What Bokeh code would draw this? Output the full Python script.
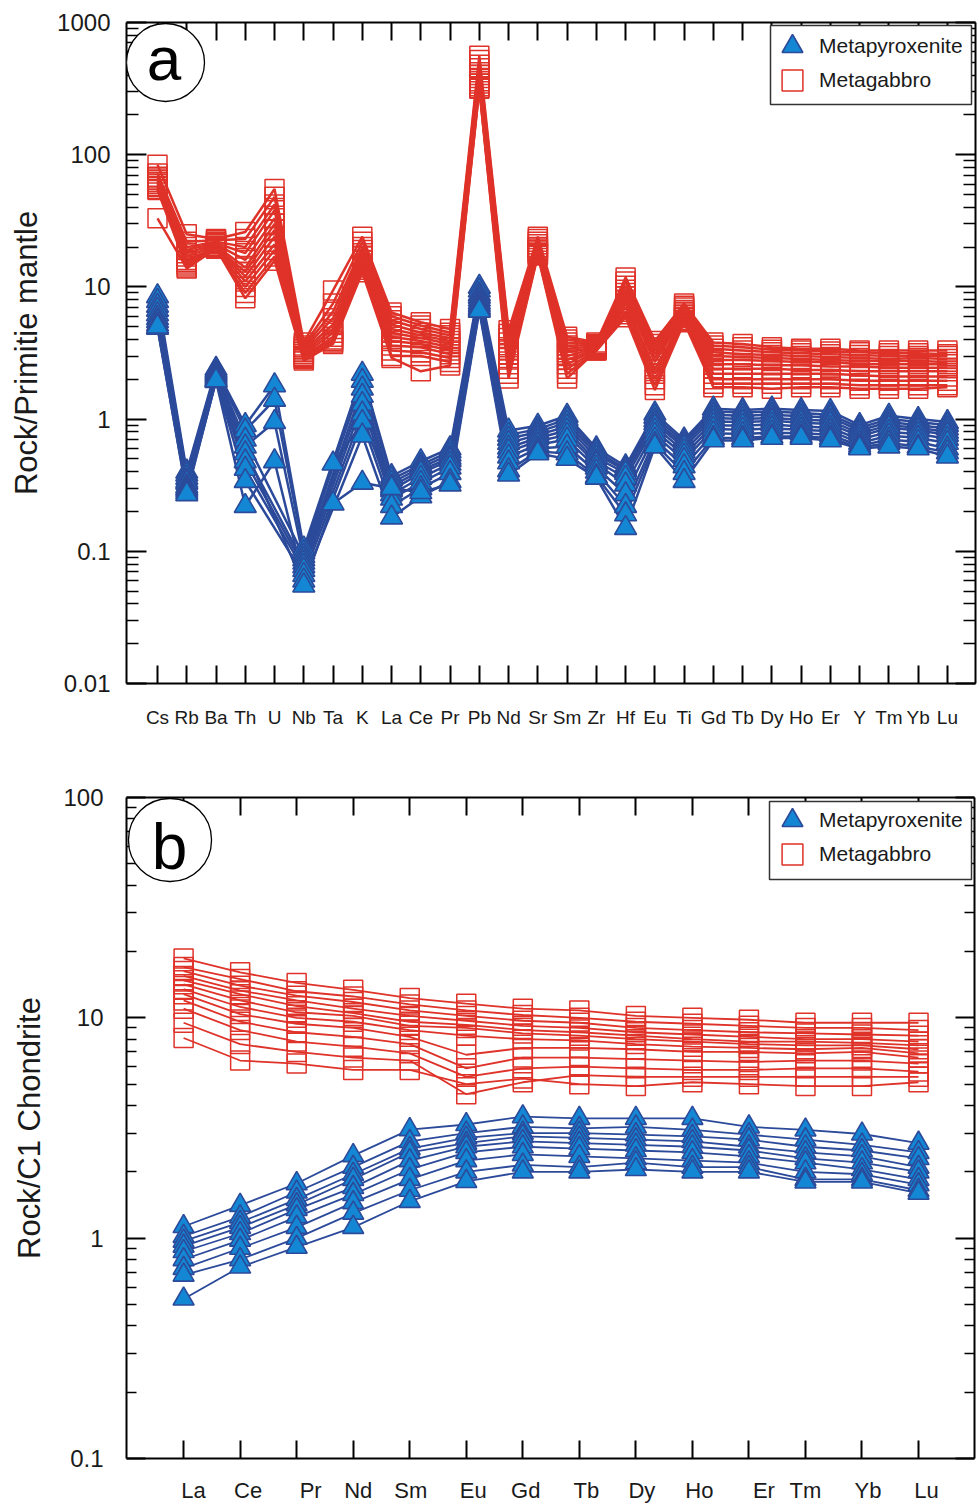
from bokeh.plotting import figure
from bokeh.models import (Range1d, FixedTicker, LinearAxis, LogAxis, CustomJSTickFormatter,
                          Legend, LegendItem, BoxAnnotation, Label)
from bokeh.layouts import column
from bokeh.embed import file_html
from bokeh.resources import INLINE

# ---------------- data ----------------
spider_elements = ["Cs", "Rb", "Ba", "Th", "U", "Nb", "Ta", "K", "La", "Ce", "Pr", "Pb", "Nd", "Sr",
                   "Sm", "Zr", "Hf", "Eu", "Ti", "Gd", "Tb", "Dy", "Ho", "Er", "Y", "Tm", "Yb", "Lu"]
ree_elements = ["La", "Ce", "Pr", "Nd", "Sm", "Eu", "Gd", "Tb", "Dy", "Ho", "Er", "Tm", "Yb", "Lu"]

pm_ticks = [0.01, 0.1, 1, 10, 100, 1000]
ch_ticks = [0.1, 1, 10, 100]

# Rock / primitive mantle (panel a)
metapyroxenite_pm = [
    [8.5, 0.40, 2.40, 0.90, 1.80, 0.105, None, 2.20, 0.37, 0.48, 0.60, 10.0, 0.82, 0.89, 1.06, 0.60, 0.44, 1.10, 0.70, 1.20, 1.17, 1.20, 1.17, 1.15, 0.90, 1.06, 1.00, 0.95],
    [7.8, 0.38, 2.32, 0.82, 1.40, 0.098, None, 1.95, 0.35, 0.45, 0.57, 9.4, 0.76, 0.84, 1.00, 0.57, 0.42, 1.04, 0.67, 1.14, 1.12, 1.14, 1.11, 1.08, 0.86, 1.00, 0.95, 0.90],
    [7.2, 0.36, 2.26, 0.70, None, 0.092, 0.46, 0.93, 0.33, 0.43, 0.54, 8.8, 0.71, 0.80, 0.94, 0.54, 0.41, 0.98, 0.64, 1.08, 1.06, 1.08, 1.05, 1.03, 0.82, 0.95, 0.90, 0.85],
    [6.7, 0.34, 2.20, 0.62, 0.95, 0.087, None, 1.70, 0.31, 0.41, 0.51, 8.4, 0.66, 0.76, 0.88, 0.51, 0.39, 0.93, 0.61, 1.02, 1.00, 1.02, 0.99, 0.97, 0.78, 0.90, 0.86, 0.80],
    [6.2, 0.33, 2.14, 0.55, None, 0.082, None, 1.50, 0.29, 0.39, 0.49, 8.0, 0.61, 0.72, 0.82, 0.48, 0.36, 0.88, 0.57, 0.96, 0.95, 0.97, 0.94, 0.92, 0.74, 0.86, 0.82, 0.76],
    [5.8, 0.31, 2.08, 0.48, None, 0.077, None, 1.30, 0.27, 0.36, 0.46, 7.6, 0.57, 0.68, 0.76, 0.46, 0.32, 0.82, 0.53, 0.90, 0.89, 0.91, 0.88, 0.86, 0.70, 0.80, 0.77, 0.71],
    [5.5, 0.30, 2.03, 0.42, None, 0.072, None, 1.10, 0.25, 0.33, 0.43, 7.3, 0.52, 0.64, 0.70, 0.43, 0.27, 0.76, 0.49, 0.84, 0.83, 0.85, 0.83, 0.81, 0.66, 0.75, 0.72, 0.66],
    [5.2, 0.29, 1.98, 0.34, None, 0.066, None, 0.95, 0.22, 0.30, 0.39, 7.0, 0.47, 0.60, 0.62, 0.40, 0.22, 0.70, 0.44, 0.78, 0.77, 0.79, 0.78, 0.76, 0.63, 0.70, 0.67, 0.60],
    [4.9, 0.28, 1.94, 0.22, 0.48, 0.060, None, 0.75, 0.18, 0.26, 0.34, 6.8, 0.41, 0.57, 0.55, 0.37, 0.19, 0.65, 0.39, 0.72, 0.72, 0.74, 0.74, 0.72, 0.61, 0.66, 0.62, 0.56],
    [5.0, 0.27, 1.96, None, None, 0.055, 0.23, 0.33, 0.30, 0.28, 0.32, 6.6, 0.38, 0.55, 0.50, 0.36, 0.15, 0.62, 0.34, 0.69, 0.69, 0.72, 0.72, 0.69, 0.60, 0.62, 0.60, 0.52],
]
metagabbro_pm = [
    [84, 25.0, 23.0, 26.0, 55, 3.80, 9.4, 24.0, 6.4, 5.4, 4.8, 560, 4.70, 24.0, 4.20, 3.80, 11.8, 3.90, 7.5, 3.80, 3.70, 3.50, 3.40, 3.40, 3.30, 3.30, 3.30, 3.30],
    [72, 22.0, 22.5, 23.0, 48, 3.60, 7.5, 22.0, 6.0, 5.1, 4.5, 520, 4.40, 23.0, 4.00, 3.70, 11.0, 3.70, 7.2, 3.60, 3.50, 3.35, 3.30, 3.25, 3.20, 3.15, 3.15, 3.10],
    [68, 20.0, 22.0, 20.0, 42, 3.50, 6.5, 20.0, 5.6, 4.8, 4.3, 480, 4.10, 22.0, 3.80, 3.65, 10.2, 3.50, 7.0, 3.40, 3.30, 3.20, 3.15, 3.10, 3.05, 3.00, 3.00, 3.00],
    [66, 19.0, 21.5, 18.0, 38, 3.40, 5.8, 19.0, 5.2, 4.5, 4.1, 450, 3.80, 21.0, 3.60, 3.60, 9.5, 3.30, 6.7, 3.20, 3.10, 3.05, 3.00, 2.95, 2.90, 2.85, 2.90, 2.85],
    [64, 18.0, 21.0, 16.0, 33, 3.30, 5.2, 18.0, 4.8, 4.3, 3.9, 420, 3.50, 20.0, 3.40, 3.55, 9.0, 3.10, 6.5, 3.00, 2.95, 2.90, 2.85, 2.80, 2.75, 2.75, 2.75, 2.70],
    [62, 17.0, 20.5, 14.0, 30, 3.20, 4.8, 17.0, 4.5, 4.1, 3.7, 400, 3.30, 19.5, 3.20, 3.50, 8.5, 2.90, 6.3, 2.80, 2.80, 2.75, 2.70, 2.70, 2.60, 2.60, 2.60, 2.60],
    [60, 16.0, 20.0, 13.0, 27, 3.10, 4.5, 16.0, 4.2, 3.9, 3.5, 380, 3.10, 19.0, 3.00, 3.45, 8.0, 2.70, 6.1, 2.60, 2.60, 2.55, 2.55, 2.50, 2.50, 2.45, 2.45, 2.45],
    [58, 15.5, 20.0, 12.0, 24, 3.00, 4.2, 15.0, 3.9, 3.7, 3.3, 360, 2.90, 18.5, 2.80, 3.40, 7.5, 2.40, 5.9, 2.40, 2.40, 2.40, 2.35, 2.35, 2.30, 2.30, 2.30, 2.30],
    [57, 15.0, 19.8, 11.0, 21, 2.95, 4.0, 14.5, 3.6, 3.5, 3.1, 345, 2.60, 18.0, 2.60, 3.40, 7.0, 2.20, 5.8, 2.20, 2.20, 2.20, 2.20, 2.20, 2.15, 2.10, 2.10, 2.10],
    [55, 14.5, 19.6, 10.0, 19, 2.90, 3.9, 14.0, 3.3, 3.2, 2.9, 330, 2.40, 17.8, 2.40, 3.35, 6.5, 2.00, 5.6, 2.00, 2.00, 2.00, 2.00, 2.00, 1.95, 1.95, 1.95, 1.95],
    [54, 14.0, 19.5, 9.0, 17, 2.85, 3.8, 13.5, 3.0, 3.0, 2.7, 320, 2.20, 17.5, 2.20, 3.30, 6.2, 1.80, 5.5, 1.85, 1.85, 1.85, 1.85, 1.85, 1.80, 1.80, 1.80, 1.80],
    [33, 13.8, 19.5, 8.2, 15.8, 2.77, 3.7, 12.9, 2.9, 2.3, 2.54, 316, 2.03, 17.3, 2.03, 3.30, 5.9, 1.66, 5.4, 1.74, 1.74, 1.70, 1.74, 1.74, 1.70, 1.70, 1.70, 1.74],
]

# Rock / C1 chondrite (panel b)
metapyroxenite_ch = [
    [1.13, 1.41, 1.77, 2.37, 3.11, 3.28, 3.56, 3.50, 3.50, 3.50, 3.20, 3.10, 2.97, 2.70],
    [1.02, 1.25, 1.62, 2.10, 2.75, 3.00, 3.20, 3.15, 3.20, 3.10, 2.95, 2.80, 2.65, 2.45],
    [0.97, 1.18, 1.50, 1.95, 2.55, 2.85, 3.00, 3.00, 2.95, 2.90, 2.80, 2.60, 2.50, 2.30],
    [0.92, 1.12, 1.42, 1.85, 2.45, 2.70, 2.90, 2.85, 2.80, 2.75, 2.60, 2.45, 2.35, 2.10],
    [0.87, 1.05, 1.35, 1.70, 2.25, 2.60, 2.75, 2.70, 2.65, 2.60, 2.50, 2.30, 2.20, 2.00],
    [0.80, 0.98, 1.25, 1.58, 2.05, 2.45, 2.60, 2.55, 2.50, 2.45, 2.35, 2.20, 2.05, 1.85],
    [0.73, 0.90, 1.12, 1.45, 1.85, 2.25, 2.40, 2.35, 2.30, 2.25, 2.20, 2.00, 1.95, 1.75],
    [0.68, 0.80, 1.00, 1.30, 1.65, 2.00, 2.15, 2.10, 2.20, 2.10, 2.10, 1.85, 1.85, 1.65],
    [0.53, 0.74, 0.91, 1.12, 1.47, 1.81, 2.00, 2.00, 2.05, 2.00, 2.00, 1.80, 1.80, 1.60],
]
metagabbro_ch = [
    [18.6, 16.1, 14.4, 13.4, 12.3, 11.6, 11.0, 10.8, 10.2, 10.0, 9.8, 9.5, 9.5, 9.5],
    [17.0, 15.0, 13.2, 12.5, 11.5, 10.8, 10.3, 10.0, 9.6, 9.4, 9.2, 9.0, 9.0, 8.8],
    [16.3, 14.0, 12.6, 11.8, 10.8, 10.2, 9.7, 9.5, 9.0, 8.8, 8.6, 8.5, 8.4, 8.3],
    [15.5, 13.3, 12.0, 11.0, 10.2, 9.7, 9.2, 9.0, 8.6, 8.4, 8.2, 8.0, 8.0, 7.8],
    [14.8, 12.8, 11.3, 10.5, 9.6, 9.3, 8.8, 8.6, 8.3, 8.0, 7.8, 7.8, 7.7, 7.5],
    [14.2, 12.0, 10.6, 10.2, 9.2, 9.0, 8.5, 8.3, 8.0, 7.8, 7.6, 7.5, 7.5, 7.2],
    [13.5, 11.2, 10.0, 9.6, 8.8, 8.3, 8.0, 7.9, 7.6, 7.4, 7.3, 7.2, 7.3, 6.9],
    [12.8, 10.4, 9.4, 9.0, 8.2, 6.8, 7.3, 7.3, 7.2, 7.0, 7.0, 6.9, 7.0, 6.6],
    [12.0, 9.6, 8.6, 8.2, 7.6, 5.9, 6.6, 6.6, 6.5, 6.4, 6.3, 6.4, 6.4, 6.2],
    [11.0, 8.8, 7.8, 7.4, 6.9, 5.4, 5.9, 6.0, 5.9, 5.8, 5.8, 5.9, 5.9, 5.7],
    [9.5, 7.6, 7.0, 6.6, 6.4, 4.5, 5.1, 5.5, 5.4, 5.4, 5.4, 5.4, 5.4, 5.4],
    [8.1, 6.4, 6.2, 5.8, 5.8, 5.0, 5.3, 5.0, 4.9, 5.1, 5.0, 4.9, 4.9, 5.1],
]

# ---------------- style / layout ----------------
FONT = "Liberation Sans"
RED = "#DF3229"
BLUE_LINE = "#2C4A9A"
BLUE_FILL = "#1487D4"
INK = "#1a1a1a"
REE_LABEL_SHIFT_PX = [10, 8, 14, 5, 1, 7, 3, 7, 6, 7, 15, 0, 6, 8]


def minor_log(lo_exp, hi_exp):
    return [m * 10.0 ** k for k in range(lo_exp, hi_exp) for m in range(2, 10)]


def style_y(ax, labels=True, standoff=16):
    ax.major_tick_in = 20
    ax.major_tick_out = 0
    ax.minor_tick_in = 12
    ax.minor_tick_out = 0
    ax.axis_line_width = 2
    ax.axis_line_color = "black"
    ax.major_tick_line_width = 2
    ax.minor_tick_line_width = 1.6
    ax.major_label_text_font = FONT
    ax.major_label_text_color = INK
    if labels:
        ax.major_label_text_font_size = "24px"
        ax.major_label_standoff = standoff
        ax.formatter = CustomJSTickFormatter(code="return tick.toString()")
    else:
        ax.major_label_text_font_size = "1px"
        ax.major_label_standoff = 0
        ax.formatter = CustomJSTickFormatter(code="return ''")


def style_x_ticks(ax):
    ax.major_tick_in = 18
    ax.major_tick_out = 0
    ax.minor_tick_line_color = None
    ax.axis_line_width = 2
    ax.axis_line_color = "black"
    ax.major_tick_line_width = 2
    ax.major_label_text_font = FONT
    ax.major_label_text_color = INK


def draw_group(p, series, lw, marker, size, fill, mline, lcolor, mlw):
    pts = []
    for s in series:
        xs = [i for i, v in enumerate(s) if v is not None]
        ys = [v for v in s if v is not None]
        pts.append((xs, ys))
        p.line(xs, ys, line_color=lcolor, line_width=lw)
    rends = []
    for xs, ys in pts:
        rends.append(p.scatter(xs, ys, marker=marker, size=size, fill_color=fill,
                               line_color=mline, line_width=mlw))
    return rends[0]


def add_legend(p, box, tri_rend, tri_loc, sq_rend, sq_loc):
    # legend frame (screen units, relative to the plot frame)
    l, r, t, b = box
    p.add_layout(BoxAnnotation(left=l, right=r, top=t, bottom=b,
                               left_units="screen", right_units="screen",
                               top_units="screen", bottom_units="screen",
                               fill_color="white", fill_alpha=1,
                               line_color="#333333", line_alpha=1, line_width=1.5))
    for label, rend, loc in (("Metapyroxenite", tri_rend, tri_loc), ("Metagabbro", sq_rend, sq_loc)):
        lg = Legend(items=[LegendItem(label=label, renderers=[rend])],
                    location=loc, margin=0, padding=0, spacing=0,
                    glyph_width=52, glyph_height=52, label_standoff=1,
                    label_text_font=FONT, label_text_font_size="21px", label_text_color=INK,
                    border_line_color=None, background_fill_alpha=0)
        p.add_layout(lg)


def add_panel_tag(p, frame_h, left, top, d, text, tx, tbase, fsize):
    p.add_layout(BoxAnnotation(left=left, right=left + d, top=frame_h - top, bottom=frame_h - top - d,
                               left_units="screen", right_units="screen",
                               top_units="screen", bottom_units="screen",
                               border_radius=int(d // 2), fill_color="white", fill_alpha=1,
                               line_color="black", line_alpha=1, line_width=1.3))
    p.add_layout(Label(x=tx, y=frame_h - tbase, x_units="screen", y_units="screen", text=text,
                       text_font=FONT, text_font_size=fsize, text_align="center",
                       text_baseline="alphabetic", text_color="black"))


# ---------------- panel a ----------------
FW_A, FH_A = 849, 661
pa = figure(frame_width=FW_A, frame_height=FH_A, y_axis_type="log",
            x_range=Range1d(-1.06, 27.96), y_range=Range1d(0.01, 1000),
            output_backend="svg", toolbar_location=None,
            min_border_left=124, min_border_right=6, min_border_top=22, min_border_bottom=64,
            background_fill_color="white", border_fill_color="white", outline_line_color=None)
pa.grid.visible = False

tick_a = FixedTicker(ticks=list(range(len(spider_elements))))
ya_ticker = FixedTicker(ticks=pm_ticks, minor_ticks=minor_log(-2, 3))

xa = pa.xaxis[0]
xa.ticker = tick_a
style_x_ticks(xa)
xa.major_label_text_font_size = "19px"
xa.major_label_standoff = 23
xa.formatter = CustomJSTickFormatter(args=dict(names=spider_elements), code="return names[Math.round(tick)]")

top_a = LinearAxis(ticker=tick_a)
style_x_ticks(top_a)
top_a.major_label_text_font_size = "1px"
top_a.major_label_standoff = 0
top_a.formatter = CustomJSTickFormatter(code="return ''")
pa.add_layout(top_a, "above")

ya = pa.yaxis[0]
ya.ticker = ya_ticker
style_y(ya, True, 16)
ya.axis_label = "Rock/Primitie mantle"
ya.axis_label_text_font = FONT
ya.axis_label_text_font_size = "31px"
ya.axis_label_text_font_style = "normal"
ya.axis_label_text_color = INK
ya.axis_label_standoff = 10

ra = LogAxis(ticker=ya_ticker)
style_y(ra, False)
pa.add_layout(ra, "right")

sq_a = draw_group(pa, metagabbro_pm, 2.5, "square", 19, None, RED, RED, 1.5)
tri_a = draw_group(pa, metapyroxenite_pm, 2.5, "triangle", 22, BLUE_FILL, BLUE_LINE, BLUE_LINE, 1.6)
add_legend(pa, (644, 845, 658, 579), tri_a, (640, 611), sq_a, (640, 577))
add_panel_tag(pa, FH_A, 0, 1, 78, "a", 37.5, 36, "62px")

# ---------------- panel b ----------------
FW_B, FH_B = 848, 661
XB0, XB1 = -1.01, 13.99
pb = figure(frame_width=FW_B, frame_height=FH_B, y_axis_type="log",
            x_range=Range1d(XB0, XB1), y_range=Range1d(0.1, 100),
            output_backend="svg", toolbar_location=None,
            min_border_left=126, min_border_right=5, min_border_top=50, min_border_bottom=48,
            background_fill_color="white", border_fill_color="white", outline_line_color=None)
pb.grid.visible = False

tick_b = FixedTicker(ticks=list(range(len(ree_elements))))
yb_ticker = FixedTicker(ticks=ch_ticks, minor_ticks=minor_log(-1, 2))
unit_px = (XB1 - XB0) / FW_B

xb = pb.xaxis[0]
xb.ticker = tick_b
style_x_ticks(xb)
xb.major_label_text_font_size = "1px"
xb.major_label_standoff = 0
xb.formatter = CustomJSTickFormatter(code="return ''")

lab_b = LinearAxis(ticker=FixedTicker(ticks=[i + s * unit_px for i, s in enumerate(REE_LABEL_SHIFT_PX)]))
lab_b.axis_line_color = None
lab_b.major_tick_line_color = None
lab_b.minor_tick_line_color = None
lab_b.major_tick_in = 0
lab_b.major_tick_out = 0
lab_b.major_label_standoff = 19
lab_b.major_label_text_font = FONT
lab_b.major_label_text_font_size = "22px"
lab_b.major_label_text_color = INK
lab_b.formatter = CustomJSTickFormatter(args=dict(names=ree_elements), code="return names[Math.round(tick)]")
pb.add_layout(lab_b, "below")

top_b = LinearAxis(ticker=tick_b)
style_x_ticks(top_b)
top_b.major_label_text_font_size = "1px"
top_b.major_label_standoff = 0
top_b.formatter = CustomJSTickFormatter(code="return ''")
pb.add_layout(top_b, "above")

yb = pb.yaxis[0]
yb.ticker = yb_ticker
style_y(yb, True, 23)
yb.minor_tick_in = 10
yb.major_tick_in = 19
yb.axis_label = "Rock/C1 Chondrite"
yb.axis_label_text_font = FONT
yb.axis_label_text_font_size = "31px"
yb.axis_label_text_font_style = "normal"
yb.axis_label_text_color = INK
yb.axis_label_standoff = 13

rb = LogAxis(ticker=yb_ticker)
style_y(rb, False)
rb.minor_tick_in = 10
rb.major_tick_in = 19
pb.add_layout(rb, "right")

sq_b = draw_group(pb, metagabbro_ch, 1.8, "square", 19, None, RED, RED, 1.5)
tri_b = draw_group(pb, metapyroxenite_ch, 1.8, "triangle", 21, BLUE_FILL, BLUE_LINE, BLUE_LINE, 1.6)
add_legend(pb, (643, 845, 657, 579), tri_b, (640, 612), sq_b, (640, 578))
add_panel_tag(pb, FH_B, 2, 1, 83, "b", 43, 49, "64px")

layout = column(pa, pb, spacing=0)
open("out.html", "w").write(file_html(layout, INLINE))
